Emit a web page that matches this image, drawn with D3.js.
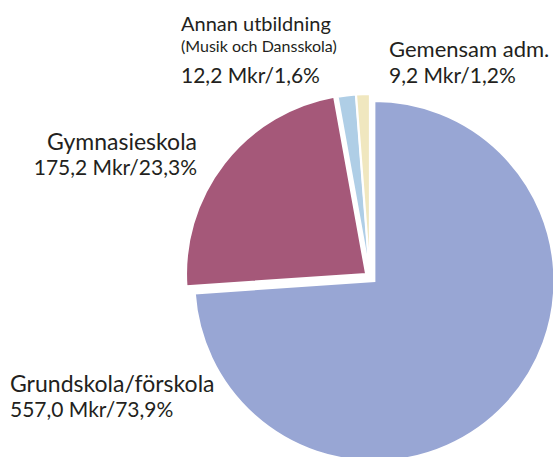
<!DOCTYPE html>
<html>
<head>
<meta charset="utf-8">
<script src="https://cdn.jsdelivr.net/npm/d3@7"></script>
<style>
  html, body { margin: 0; padding: 0; background: #fff; }
  svg { display: block; }
  .lbl { font-family: Lato, "Open Sans", sans-serif; fill: #231f20; }
</style>
</head>
<body>
<div id="chart"></div>
<script>
// Budget per verksamhet (Mkr)
const categories = ['Grundskola/förskola', 'Gymnasieskola', 'Annan utbildning', 'Gemensam adm.'];
const amounts = [557.0, 175.2, 12.2, 9.2];
const percentLabels = ['73,9%', '23,3%', '1,6%', '1,2%'];
const amountLabels = ['557,0 Mkr', '175,2 Mkr', '12,2 Mkr', '9,2 Mkr'];
const colors = ['#98a6d4', '#a55879', '#afcee6', '#f0e7bf'];
const explode = [6, 5, 3, 3];

const width = 553;
const height = 457;

const svg = d3.select('#chart')
    .append('svg')
    .attr('width', width)
    .attr('height', height);

const cx = 370, cy = 277, radius = 180;

const pie = d3.pie()
    .sort(null)
    .value(d => d.value);

const arc = d3.arc()
    .innerRadius(0)
    .outerRadius(radius);

const data = categories.map((c, i) => ({ name: c, value: amounts[i], i: i }));

const g = svg.append('g')
    .attr('transform', `translate(${cx},${cy})`);

g.selectAll('path')
    .data(pie(data))
    .enter()
    .append('path')
    .attr('d', arc)
    .attr('fill', d => colors[d.data.i])
    .attr('stroke', '#fff')
    .attr('stroke-width', 2)
    .attr('stroke-linejoin', 'miter')
    .attr('transform', d => {
        const mid = (d.startAngle + d.endAngle) / 2;
        const off = explode[d.data.i];
        return `translate(${Math.sin(mid) * off},${-Math.cos(mid) * off})`;
    });

// Labels
function label(x, y, lines, anchor) {
    const t = svg.append('text')
        .attr('class', 'lbl')
        .attr('x', x)
        .attr('y', y)
        .attr('text-anchor', anchor || 'start');
    lines.forEach(l => {
        t.append('tspan')
            .attr('x', x)
            .attr('y', y + l.dy)
            .style('font-size', l.size + 'px')
            .text(l.text);
    });
}

const full = i => `${amountLabels[i]}/${percentLabels[i]}`;

label(10, 392, [
    { text: categories[0], dy: 0, size: 23 },
    { text: full(0), dy: 25, size: 21 }
]);

label(197, 150, [
    { text: categories[1], dy: 0, size: 23 },
    { text: full(1), dy: 25, size: 21 }
], 'end');

label(181, 31, [
    { text: categories[2], dy: 0, size: 20 },
    { text: '(Musik och Dansskola)', dy: 21, size: 16 },
    { text: full(2), dy: 52, size: 21 }
]);

label(389, 57, [
    { text: categories[3], dy: 0, size: 22 },
    { text: full(3), dy: 26, size: 21 }
]);
</script>
</body>
</html>
